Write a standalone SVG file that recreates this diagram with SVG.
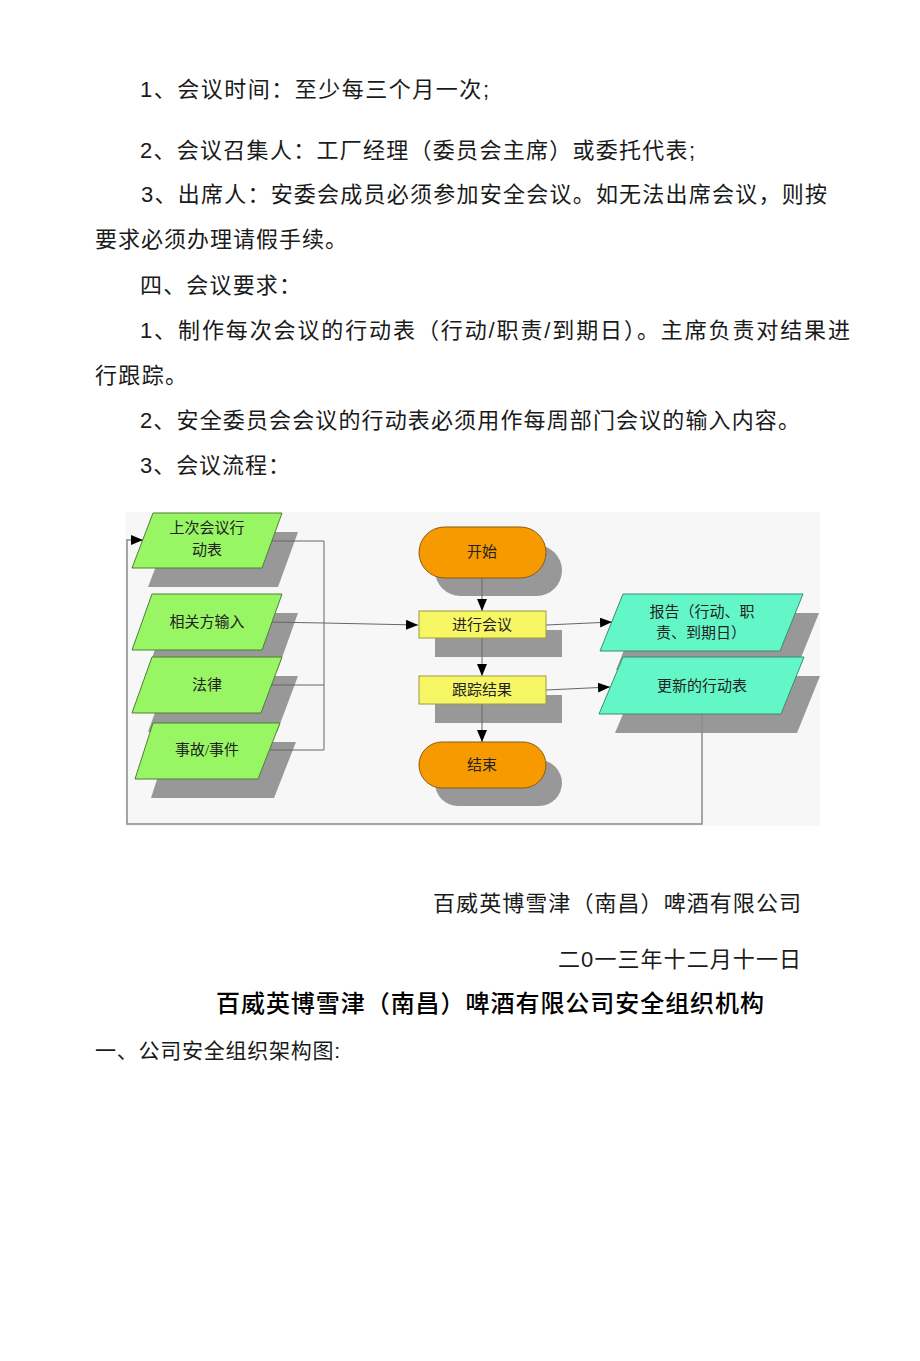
<svg xmlns="http://www.w3.org/2000/svg" width="920" height="1361" viewBox="0 0 920 1361">
<defs>
<style>
.body{font-family:"Liberation Sans","Noto Sans CJK SC",sans-serif;font-size:22px;fill:#1a1a1a}
.lbl{font-family:"Liberation Serif","Noto Sans CJK SC",serif;font-size:15px;fill:#222;text-anchor:middle}
.sh{fill:#989898}
.grn{fill:#98f564;stroke:#4f7f35;stroke-width:1}
.teal{fill:#63f7c8;stroke:#3a8c70;stroke-width:1}
.org{fill:#f79a00;stroke:#8a5a12;stroke-width:1}
.yel{fill:#f7f766;stroke:#9a9a40;stroke-width:1}
.ln{fill:none;stroke:#666;stroke-width:1}
.lp{fill:none;stroke:#8a8a8a;stroke-width:1.5}
</style>
<marker id="ah" viewBox="0 0 12 10" refX="12" refY="5" markerWidth="12" markerHeight="10" markerUnits="userSpaceOnUse" orient="auto">
<path d="M0,0 L12,5 L0,10 Z" fill="#000"/>
</marker>
<clipPath id="dc"><rect x="125" y="512" width="695" height="314"/></clipPath>
</defs>
<rect width="920" height="1361" fill="#fff"/>
<g id="text-top">
<text class="body" x="140" y="97" textLength="349" lengthAdjust="spacing">1、会议时间：至少每三个月一次;</text>
<text class="body" x="140" y="158" textLength="555" lengthAdjust="spacing">2、会议召集人：工厂经理（委员会主席）或委托代表;</text>
<text class="body" x="141" y="202" textLength="686" lengthAdjust="spacing">3、出席人：安委会成员必须参加安全会议。如无法出席会议，则按</text>
<text class="body" x="95" y="247" textLength="252" lengthAdjust="spacing">要求必须办理请假手续。</text>
<text class="body" x="140" y="293" textLength="161" lengthAdjust="spacing">四、会议要求：</text>
<text class="body" x="140" y="338" textLength="710" lengthAdjust="spacing">1、制作每次会议的行动表（行动/职责/到期日）。主席负责对结果进</text>
<text class="body" x="95" y="383" textLength="92" lengthAdjust="spacing">行跟踪。</text>
<text class="body" x="140" y="428" textLength="660" lengthAdjust="spacing">2、安全委员会会议的行动表必须用作每周部门会议的输入内容。</text>
<text class="body" x="140" y="473" textLength="150" lengthAdjust="spacing">3、会议流程：</text>
</g>
<rect id="diagram-bg" x="125" y="512" width="695" height="314" fill="#f7f7f7"/>
<g id="shadows" clip-path="url(#dc)">
<polygon class="sh" points="169,532 298,532 278,587 148,587"/>
<polygon class="sh" points="168,613 298,613 278,669 148,669"/>
<polygon class="sh" points="168,676 298,676 277,732 148,732"/>
<polygon class="sh" points="169,742 296,742 274,798 151,798"/>
<rect class="sh" x="435" y="545" width="127" height="51" rx="25.5"/>
<rect class="sh" x="435" y="630" width="127" height="27"/>
<rect class="sh" x="435" y="695" width="127" height="28"/>
<rect class="sh" x="435" y="760" width="127" height="46" rx="23"/>
<polygon class="sh" points="639,613 819,613 796,670 616,670"/>
<polygon class="sh" points="639,676 820,676 797,733 615,733"/>
</g>
<g id="connectors">
<polyline class="ln" points="272,541 324,541 324,750"/>
<line class="ln" x1="271" y1="685" x2="324" y2="685"/>
<line class="ln" x1="266" y1="750" x2="324" y2="750"/>
<polyline class="ln" points="268,622 324,623 418,625" marker-end="url(#ah)"/>
<line class="ln" x1="482" y1="578" x2="482" y2="611" marker-end="url(#ah)"/>
<line class="ln" x1="482" y1="638" x2="482" y2="676" marker-end="url(#ah)"/>
<line class="ln" x1="482" y1="704" x2="482" y2="742" marker-end="url(#ah)"/>
<line class="ln" x1="546" y1="625" x2="612" y2="622" marker-end="url(#ah)"/>
<line class="ln" x1="546" y1="690" x2="610" y2="687" marker-end="url(#ah)"/>
<polyline class="lp" points="702,714 702,824 127,824 127,540 143,540" marker-end="url(#ah)"/>
</g>
<g id="n-prev">
<polygon class="grn" points="153,513 282,513 262,568 132,568"/>
<text class="lbl" x="207" y="533">上次会议行</text>
<text class="lbl" x="207" y="555">动表</text>
</g>
<g id="n-stake">
<polygon class="grn" points="152,594 282,594 262,650 132,650"/>
<text class="lbl" x="207" y="627">相关方输入</text>
</g>
<g id="n-law">
<polygon class="grn" points="152,657 282,657 261,713 132,713"/>
<text class="lbl" x="207" y="690">法律</text>
</g>
<g id="n-incident">
<polygon class="grn" points="153,723 280,723 258,779 135,779"/>
<text class="lbl" x="207" y="755">事故/事件</text>
</g>
<g id="n-start">
<rect class="org" x="419" y="527" width="127" height="51" rx="25.5"/>
<text class="lbl" x="482" y="557">开始</text>
</g>
<g id="n-meet">
<rect class="yel" x="419" y="611" width="127" height="27"/>
<text class="lbl" x="482" y="630">进行会议</text>
</g>
<g id="n-track">
<rect class="yel" x="419" y="676" width="127" height="28"/>
<text class="lbl" x="482" y="695">跟踪结果</text>
</g>
<g id="n-end">
<rect class="org" x="419" y="742" width="127" height="46" rx="23"/>
<text class="lbl" x="482" y="770">结束</text>
</g>
<g id="n-report">
<polygon class="teal" points="623,594 803,594 780,651 600,651"/>
<text class="lbl" x="702" y="617">报告（行动、职</text>
<text class="lbl" x="701" y="638">责、到期日）</text>
</g>
<g id="n-update">
<polygon class="teal" points="623,657 804,657 781,714 599,714"/>
<text class="lbl" x="702" y="691">更新的行动表</text>
</g>
<g id="text-bottom">
<text class="body" x="433" y="911" textLength="368" lengthAdjust="spacing">百威英博雪津（南昌）啤酒有限公司</text>
<text class="body" x="558" y="967" textLength="243" lengthAdjust="spacing">二0一三年十二月十一日</text>
<text class="body" x="216" y="1012" textLength="548" lengthAdjust="spacing" style="font-size:24px;font-weight:500;fill:#000">百威英博雪津（南昌）啤酒有限公司安全组织机构</text>
<text class="body" x="95" y="1058" textLength="245" lengthAdjust="spacing" style="font-size:21px">一、公司安全组织架构图:</text>
</g>
</svg>
